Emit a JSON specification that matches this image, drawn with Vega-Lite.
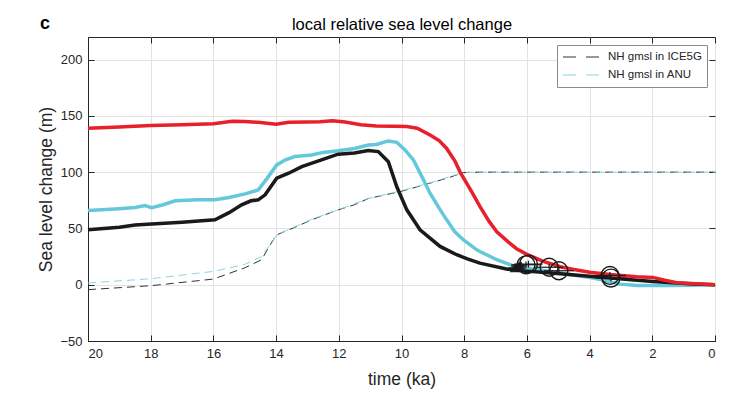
{
  "$schema": "https://vega.github.io/schema/vega-lite/v6.json",
  "width": 627,
  "height": 304,
  "autosize": {"type": "none"},
  "padding": {"left": 88, "top": 37, "right": 21, "bottom": 56},
  "background": "white",
  "config": {
    "font": "Liberation Sans",
    "view": {"stroke": "#262626", "strokeWidth": 1},
    "axis": {
      "domainColor": "#262626",
      "tickColor": "#262626",
      "labelColor": "#262626",
      "titleColor": "#262626",
      "labelFont": "Liberation Sans",
      "titleFont": "Liberation Sans",
      "labelFontSize": 13,
      "titleFontSize": 17.5,
      "titleFontWeight": "normal",
      "gridColor": "#e3e3e3",
      "gridWidth": 1,
      "tickSize": -6
    }
  },
  "title": {
    "text": "c",
    "anchor": "start",
    "frame": "group",
    "fontSize": 18,
    "fontWeight": "bold",
    "color": "#000000",
    "dx": -48,
    "dy": 20,
    "offset": 4
  },
  "datasets": {
    "lines": [
      {"series": "NH gmsl in ICE5G", "t": 20, "v": -4.4},
      {"series": "NH gmsl in ICE5G", "t": 18, "v": -0.9},
      {"series": "NH gmsl in ICE5G", "t": 16, "v": 5},
      {"series": "NH gmsl in ICE5G", "t": 15.5, "v": 10},
      {"series": "NH gmsl in ICE5G", "t": 15, "v": 15},
      {"series": "NH gmsl in ICE5G", "t": 14.46, "v": 22.2},
      {"series": "NH gmsl in ICE5G", "t": 14.2, "v": 35},
      {"series": "NH gmsl in ICE5G", "t": 13.98, "v": 44.3},
      {"series": "NH gmsl in ICE5G", "t": 13.4, "v": 51},
      {"series": "NH gmsl in ICE5G", "t": 12.87, "v": 57.6},
      {"series": "NH gmsl in ICE5G", "t": 12.02, "v": 66.5},
      {"series": "NH gmsl in ICE5G", "t": 11.5, "v": 71},
      {"series": "NH gmsl in ICE5G", "t": 11.06, "v": 76.5},
      {"series": "NH gmsl in ICE5G", "t": 10, "v": 83},
      {"series": "NH gmsl in ICE5G", "t": 9.09, "v": 90.2},
      {"series": "NH gmsl in ICE5G", "t": 8.5, "v": 95},
      {"series": "NH gmsl in ICE5G", "t": 8.03, "v": 99.6},
      {"series": "NH gmsl in ICE5G", "t": 7.5, "v": 100},
      {"series": "NH gmsl in ICE5G", "t": 0, "v": 100},
      {"series": "NH gmsl in ANU", "t": 20, "v": 1.5},
      {"series": "NH gmsl in ANU", "t": 18, "v": 5.3},
      {"series": "NH gmsl in ANU", "t": 16, "v": 11.8},
      {"series": "NH gmsl in ANU", "t": 15, "v": 18},
      {"series": "NH gmsl in ANU", "t": 14.46, "v": 25},
      {"series": "NH gmsl in ANU", "t": 13.98, "v": 44.3},
      {"series": "NH gmsl in ANU", "t": 13.4, "v": 51.5},
      {"series": "NH gmsl in ANU", "t": 12.87, "v": 58},
      {"series": "NH gmsl in ANU", "t": 12.02, "v": 66.5},
      {"series": "NH gmsl in ANU", "t": 11.06, "v": 76.5},
      {"series": "NH gmsl in ANU", "t": 10, "v": 83.5},
      {"series": "NH gmsl in ANU", "t": 9.09, "v": 90.5},
      {"series": "NH gmsl in ANU", "t": 8.03, "v": 99.7},
      {"series": "NH gmsl in ANU", "t": 7.5, "v": 100},
      {"series": "NH gmsl in ANU", "t": 0, "v": 100},
      {"series": "cyan", "t": 20, "v": 65.9},
      {"series": "cyan", "t": 19, "v": 67.5},
      {"series": "cyan", "t": 18.5, "v": 68.5},
      {"series": "cyan", "t": 18.18, "v": 70.3},
      {"series": "cyan", "t": 17.97, "v": 68.5},
      {"series": "cyan", "t": 17.6, "v": 71},
      {"series": "cyan", "t": 17.22, "v": 74.5},
      {"series": "cyan", "t": 16.5, "v": 75.5},
      {"series": "cyan", "t": 15.95, "v": 75.4},
      {"series": "cyan", "t": 15.5, "v": 77.5},
      {"series": "cyan", "t": 14.99, "v": 80.7},
      {"series": "cyan", "t": 14.57, "v": 84.2},
      {"series": "cyan", "t": 14.3, "v": 94},
      {"series": "cyan", "t": 13.98, "v": 106.4},
      {"series": "cyan", "t": 13.7, "v": 111},
      {"series": "cyan", "t": 13.4, "v": 113.8},
      {"series": "cyan", "t": 12.87, "v": 115.2},
      {"series": "cyan", "t": 12.5, "v": 117.5},
      {"series": "cyan", "t": 12.02, "v": 119},
      {"series": "cyan", "t": 11.5, "v": 121},
      {"series": "cyan", "t": 11.06, "v": 124},
      {"series": "cyan", "t": 10.8, "v": 124.5},
      {"series": "cyan", "t": 10.42, "v": 127.7},
      {"series": "cyan", "t": 10.15, "v": 126.5},
      {"series": "cyan", "t": 9.89, "v": 119.7},
      {"series": "cyan", "t": 9.62, "v": 110.8},
      {"series": "cyan", "t": 9.35, "v": 96},
      {"series": "cyan", "t": 9.09, "v": 81.3},
      {"series": "cyan", "t": 8.8, "v": 68},
      {"series": "cyan", "t": 8.56, "v": 57.6},
      {"series": "cyan", "t": 8.3, "v": 47},
      {"series": "cyan", "t": 8.03, "v": 39.9},
      {"series": "cyan", "t": 7.6, "v": 31},
      {"series": "cyan", "t": 7.5, "v": 29.5},
      {"series": "cyan", "t": 6.96, "v": 22.2},
      {"series": "cyan", "t": 6.43, "v": 16.8},
      {"series": "cyan", "t": 6.0, "v": 14.8},
      {"series": "cyan", "t": 4.94, "v": 10.4},
      {"series": "cyan", "t": 3.88, "v": 5.9},
      {"series": "cyan", "t": 3.03, "v": 0.5},
      {"series": "cyan", "t": 2.5, "v": -0.8},
      {"series": "cyan", "t": 1.5, "v": -0.8},
      {"series": "cyan", "t": 0.8, "v": -0.5},
      {"series": "cyan", "t": 0, "v": 0},
      {"series": "black", "t": 20, "v": 48.8},
      {"series": "black", "t": 19, "v": 51},
      {"series": "black", "t": 18.5, "v": 53},
      {"series": "black", "t": 17.97, "v": 54},
      {"series": "black", "t": 17, "v": 55.5},
      {"series": "black", "t": 15.95, "v": 57.6},
      {"series": "black", "t": 15.5, "v": 64},
      {"series": "black", "t": 15.1, "v": 70.9},
      {"series": "black", "t": 14.8, "v": 74.5},
      {"series": "black", "t": 14.57, "v": 75.4},
      {"series": "black", "t": 14.35, "v": 79.8},
      {"series": "black", "t": 13.98, "v": 94.6},
      {"series": "black", "t": 13.6, "v": 99},
      {"series": "black", "t": 13.18, "v": 104.9},
      {"series": "black", "t": 12.6, "v": 110.5},
      {"series": "black", "t": 12.02, "v": 115.9},
      {"series": "black", "t": 11.5, "v": 117},
      {"series": "black", "t": 11.06, "v": 119.1},
      {"series": "black", "t": 10.74, "v": 118.2},
      {"series": "black", "t": 10.42, "v": 109.3},
      {"series": "black", "t": 10.15, "v": 87},
      {"series": "black", "t": 9.83, "v": 66.5},
      {"series": "black", "t": 9.41, "v": 48.8},
      {"series": "black", "t": 8.77, "v": 34},
      {"series": "black", "t": 8.24, "v": 26.6},
      {"series": "black", "t": 7.9, "v": 23},
      {"series": "black", "t": 7.5, "v": 19.2},
      {"series": "black", "t": 6.65, "v": 13.9},
      {"series": "black", "t": 6.2, "v": 12.5},
      {"series": "black", "t": 4.94, "v": 9.8},
      {"series": "black", "t": 3.35, "v": 5.9},
      {"series": "black", "t": 1.98, "v": 2.9},
      {"series": "black", "t": 0.7, "v": 0.6},
      {"series": "black", "t": 0, "v": 0},
      {"series": "red", "t": 20, "v": 139},
      {"series": "red", "t": 19, "v": 140},
      {"series": "red", "t": 18, "v": 141.5},
      {"series": "red", "t": 17, "v": 142},
      {"series": "red", "t": 16, "v": 143},
      {"series": "red", "t": 15.4, "v": 145.2},
      {"series": "red", "t": 15, "v": 145},
      {"series": "red", "t": 14.5, "v": 144},
      {"series": "red", "t": 14, "v": 142.5},
      {"series": "red", "t": 13.6, "v": 144.2},
      {"series": "red", "t": 13, "v": 144.5},
      {"series": "red", "t": 12.6, "v": 144.8},
      {"series": "red", "t": 12.2, "v": 145.7},
      {"series": "red", "t": 11.8, "v": 144.5},
      {"series": "red", "t": 11.3, "v": 142},
      {"series": "red", "t": 10.8, "v": 141},
      {"series": "red", "t": 10.2, "v": 140.8},
      {"series": "red", "t": 9.83, "v": 140.5},
      {"series": "red", "t": 9.5, "v": 139},
      {"series": "red", "t": 9.09, "v": 133},
      {"series": "red", "t": 8.8, "v": 128},
      {"series": "red", "t": 8.56, "v": 121},
      {"series": "red", "t": 8.3, "v": 110},
      {"series": "red", "t": 8.13, "v": 100},
      {"series": "red", "t": 7.75, "v": 82},
      {"series": "red", "t": 7.5, "v": 69.5},
      {"series": "red", "t": 7.2, "v": 56},
      {"series": "red", "t": 6.96, "v": 47},
      {"series": "red", "t": 6.6, "v": 38},
      {"series": "red", "t": 6.33, "v": 32},
      {"series": "red", "t": 6.0, "v": 27},
      {"series": "red", "t": 5.5, "v": 21},
      {"series": "red", "t": 4.94, "v": 16},
      {"series": "red", "t": 4.5, "v": 13.5},
      {"series": "red", "t": 4, "v": 11},
      {"series": "red", "t": 3.35, "v": 9},
      {"series": "red", "t": 2.5, "v": 7},
      {"series": "red", "t": 1.98, "v": 6.5},
      {"series": "red", "t": 1.6, "v": 4},
      {"series": "red", "t": 1.22, "v": 1.8},
      {"series": "red", "t": 0.6, "v": 0.8},
      {"series": "red", "t": 0, "v": 0}
    ],
    "obs": [
      {"kind": "tri", "t": 6.38, "v": 15, "tlo": 6.6, "thi": 6.15, "vlo": 13, "vhi": 17},
      {"kind": "tri", "t": 6.28, "v": 16.5, "tlo": 6.5, "thi": 6.05, "vlo": 14.5, "vhi": 18.5},
      {"kind": "tri", "t": 6.2, "v": 17.5, "tlo": 6.4, "thi": 6.0, "vlo": 15.5, "vhi": 19.5},
      {"kind": "circ", "t": 6.03, "v": 17.7, "tlo": 6.5, "thi": 5.55, "vlo": 14.7, "vhi": 20.7},
      {"kind": "circ", "t": 5.95, "v": 18.3, "tlo": 6.4, "thi": 5.5, "vlo": 15.3, "vhi": 21.3},
      {"kind": "circ", "t": 5.29, "v": 15.5, "tlo": 5.75, "thi": 4.85, "vlo": 12.5, "vhi": 18.5},
      {"kind": "circ", "t": 4.98, "v": 12.4, "tlo": 5.45, "thi": 4.5, "vlo": 9.4, "vhi": 15.4},
      {"kind": "circ", "t": 3.35, "v": 8.2, "tlo": 3.85, "thi": 2.85, "vlo": 5.2, "vhi": 11.2},
      {"kind": "circ", "t": 3.32, "v": 5.9, "tlo": 3.8, "thi": 2.8, "vlo": 2.9, "vhi": 8.9}
    ]
  },
  "resolve": {"axis": {"x": "independent", "y": "independent"}},
  "layer": [
    {
      "data": {"name": "lines"},
      "transform": [{"filter": "datum.series === 'NH gmsl in ICE5G' || datum.series === 'NH gmsl in ANU'"}],
      "mark": {"type": "line", "strokeWidth": 1, "strokeDash": [8, 5]},
      "encoding": {
        "x": {"field": "t", "type": "quantitative", "scale": {"domain": [0, 20], "reverse": true, "nice": false},
              "axis": {"title": "time (ka)", "values": [0,2,4,6,8,10,12,14,16,18,20], "grid": true, "labelPadding": 12, "titlePadding": 10}},
        "y": {"field": "v", "type": "quantitative", "scale": {"domain": [-50, 220], "nice": false},
              "axis": {"title": "Sea level change (m)", "values": [-50,0,50,100,150,200], "grid": true, "labelPadding": 12, "titlePadding": 4}},
        "color": {"field": "series", "type": "nominal",
                  "scale": {"domain": ["NH gmsl in ICE5G", "NH gmsl in ANU"], "range": ["#333333", "#86d6e4"]},
                  "legend": {"title": null, "orient": "top-right", "offset": 8, "symbolType": "stroke", "symbolDash": [13, 10],
                             "symbolStrokeWidth": 1.2, "symbolSize": 1300, "clipHeight": 14, "labelFontSize": 11.5, "labelColor": "#262626",
                             "strokeColor": "#8a8a8a", "fillColor": "white", "padding": 5, "rowPadding": 4, "labelOffset": 8}}
      }
    },
    {
      "data": {"name": "lines"},
      "transform": [{"filter": "datum.series === 'cyan'"}],
      "mark": {"type": "line", "strokeWidth": 3.5, "color": "#64c8da"},
      "encoding": {
        "x": {"field": "t", "type": "quantitative", "axis": null},
        "y": {"field": "v", "type": "quantitative", "axis": null}
      }
    },
    {
      "data": {"name": "lines"},
      "transform": [{"filter": "datum.series === 'black'"}],
      "mark": {"type": "line", "strokeWidth": 3.5, "color": "#1a1a1a"},
      "encoding": {
        "x": {"field": "t", "type": "quantitative", "axis": null},
        "y": {"field": "v", "type": "quantitative", "axis": null}
      }
    },
    {
      "data": {"name": "lines"},
      "transform": [{"filter": "datum.series === 'red'"}],
      "mark": {"type": "line", "strokeWidth": 3.5, "color": "#e8202a"},
      "encoding": {
        "x": {"field": "t", "type": "quantitative",
              "axis": {"orient": "top", "labels": false, "grid": false, "values": [0,2,4,6,8,10,12,14,16,18,20],
                       "domain": false, "title": "local relative sea level change", "titleFontSize": 16.5, "titleColor": "#000000", "titlePadding": 4}},
        "y": {"field": "v", "type": "quantitative",
              "axis": {"orient": "right", "labels": false, "grid": false, "values": [-50,0,50,100,150,200], "domain": false, "title": null}}
      }
    },
    {
      "data": {"name": "obs"},
      "mark": {"type": "rule", "color": "#1a1a1a", "strokeWidth": 1.2},
      "encoding": {
        "x": {"field": "tlo", "type": "quantitative", "axis": null},
        "x2": {"field": "thi"},
        "y": {"field": "v", "type": "quantitative", "axis": null}
      }
    },
    {
      "data": {"name": "obs"},
      "mark": {"type": "rule", "color": "#1a1a1a", "strokeWidth": 1.2},
      "encoding": {
        "x": {"field": "t", "type": "quantitative", "axis": null},
        "y": {"field": "vlo", "type": "quantitative", "axis": null},
        "y2": {"field": "vhi"}
      }
    },
    {
      "data": {"name": "obs"},
      "transform": [{"filter": "datum.kind === 'circ'"}],
      "mark": {"type": "point", "shape": "circle", "filled": false, "size": 320, "stroke": "#1a1a1a", "strokeWidth": 1.4, "opacity": 1},
      "encoding": {
        "x": {"field": "t", "type": "quantitative", "axis": null},
        "y": {"field": "v", "type": "quantitative", "axis": null}
      }
    },
    {
      "data": {"name": "obs"},
      "transform": [{"filter": "datum.kind === 'tri'"}],
      "mark": {"type": "point", "shape": "triangle-up", "filled": true, "size": 110, "color": "#1a1a1a", "opacity": 0.9},
      "encoding": {
        "x": {"field": "t", "type": "quantitative", "axis": null},
        "y": {"field": "v", "type": "quantitative", "axis": null}
      }
    }
  ]
}
